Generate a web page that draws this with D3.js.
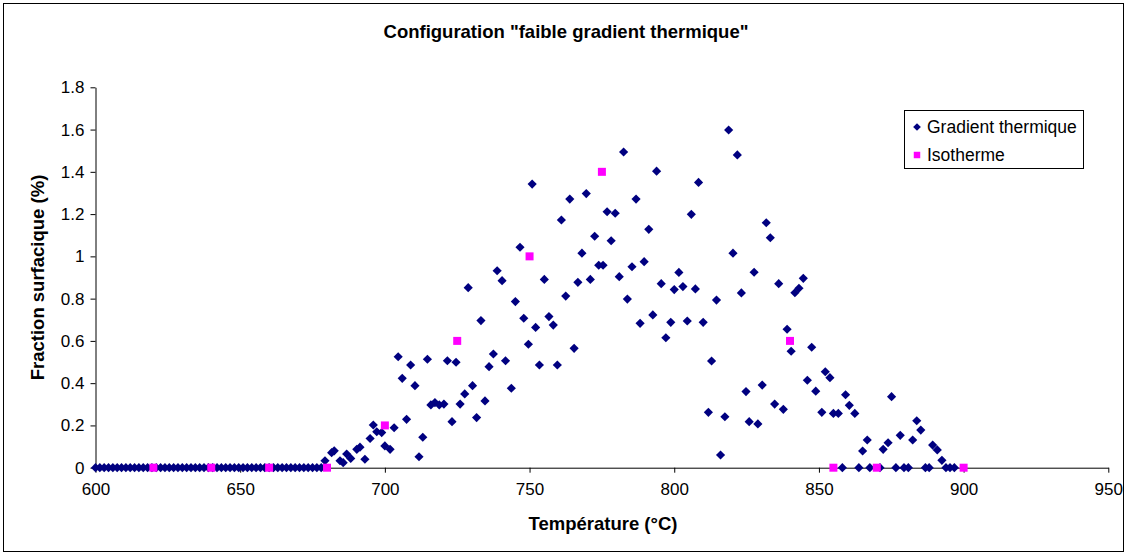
<!DOCTYPE html>
<html>
<head>
<meta charset="utf-8">
<script src="https://cdn.jsdelivr.net/npm/d3@7"></script>
<style>
  html, body { margin: 0; padding: 0; background: #fff; }
  svg { display: block; font-family: "Liberation Sans", Arial, sans-serif; }
</style>
</head>
<body>
<svg id="chart" width="1127" height="555"></svg>
<script>
// ---- Data ----
const chartTitle = 'Configuration "faible gradient thermique"';
const xTitle = "Température (°C)";
const yTitle = "Fraction surfacique (%)";
const seriesNames = ["Gradient thermique", "Isotherme"];

const xTickValues = [600, 650, 700, 750, 800, 850, 900, 950];
const yTickValues = [0, 0.2, 0.4, 0.6, 0.8, 1, 1.2, 1.4, 1.6, 1.8];
const yTickLabels = ["0", "0.2", "0.4", "0.6", "0.8", "1", "1.2", "1.4", "1.6", "1.8"];

// Gradient thermique: temperatures (°C)
const gradientT = [
  600, 601.5, 603, 604.5, 606, 607.5, 609, 610.5, 612, 613.5, 615, 616.5, 618, 619.5, 621, 622.5,
  624, 625.5, 627, 628.5, 630, 631.5, 633, 634.5, 636, 637.5, 639, 640.5, 642, 643.5, 645, 646.5,
  648, 649.5, 651, 652.5, 654, 655.5, 657, 658.5, 660, 661.5, 663, 664.5, 666, 667.5, 669, 670.5,
  672, 673.5, 675, 676.5, 678,
  679.3, 681.6, 682.5, 684.5, 685.6, 686.8, 688.2, 690.3, 691.4, 693.1, 694.9, 696.0, 697.2, 698.9,
  700.0, 701.8, 703.2, 704.6, 706.0, 707.5, 708.9, 710.4, 711.8, 713.1, 714.7, 715.9, 717.3, 718.8,
  720.4, 721.6, 723.2, 724.6, 726.0, 727.6, 728.8, 730.3, 731.7, 733.2, 734.6, 736.0, 737.5, 738.8,
  740.5, 741.7, 743.7, 745.1, 746.7, 748.0, 749.6, 750.9, 752.1, 753.4, 755.1, 756.7, 758.2, 759.6,
  761.0, 762.5, 763.9, 765.4, 766.7, 768.1, 769.6, 771.0, 772.5, 773.9, 775.4, 776.8, 778.2, 779.6,
  781.0, 782.5, 783.8, 785.4, 786.8, 788.2, 789.6, 791.2, 792.6, 793.9, 795.5, 797.1, 798.8, 800.0,
  801.6, 803.0, 804.5, 805.9, 807.3, 808.4, 810.0, 811.8, 812.9, 814.6, 816.0, 817.5, 818.8, 820.3,
  821.8, 823.2, 824.8, 825.9, 827.6, 828.9, 830.4, 831.8, 833.2, 834.7, 836.1, 837.7, 839.0, 840.4,
  841.7, 843.1, 844.6, 846.0, 847.5, 848.9, 851.0, 852.2, 853.8, 855.0, 856.7, 858.1, 859.2, 860.5,
  862.4, 863.8, 865.1, 866.7, 867.6, 871.1, 872.2, 873.9, 875.1, 876.6, 878.1, 879.4, 880.9, 882.4,
  883.8, 885.2, 886.8, 888.1, 889.3, 890.9, 892.5, 893.9, 895.3, 896.8
];
// Gradient thermique: surface fraction (%)
const gradientV = [
  0, 0, 0, 0, 0, 0, 0, 0, 0, 0, 0, 0, 0, 0, 0, 0,
  0, 0, 0, 0, 0, 0, 0, 0, 0, 0, 0, 0, 0, 0, 0, 0,
  0, 0, 0, 0, 0, 0, 0, 0, 0, 0, 0, 0, 0, 0, 0, 0,
  0, 0, 0, 0, 0,
  0.033, 0.071, 0.080, 0.033, 0.024, 0.065, 0.044, 0.087, 0.097, 0.040, 0.138, 0.202, 0.170, 0.166,
  0.103, 0.087, 0.189, 0.525, 0.423, 0.229, 0.486, 0.388, 0.052, 0.144, 0.513, 0.297, 0.308, 0.297,
  0.301, 0.506, 0.218, 0.499, 0.301, 0.349, 0.852, 0.388, 0.237, 0.696, 0.316, 0.478, 0.538, 0.932,
  0.885, 0.506, 0.376, 0.786, 1.043, 0.707, 0.584, 1.342, 0.664, 0.486, 0.891, 0.715, 0.675, 0.486,
  1.172, 0.812, 1.271, 0.565, 0.877, 1.015, 1.297, 0.891, 1.095, 0.958, 0.958, 1.211, 1.074, 1.204,
  0.904, 1.494, 0.798, 0.951, 1.271, 0.683, 0.975, 1.128, 0.723, 1.403, 0.871, 0.615, 0.688, 0.843,
  0.924, 0.857, 0.694, 1.199, 0.846, 1.350, 0.688, 0.262, 0.505, 0.793, 0.060, 0.241, 1.598, 1.015,
  1.480, 0.827, 0.360, 0.218, 0.925, 0.207, 0.391, 1.159, 1.088, 0.301, 0.871, 0.276, 0.655, 0.551,
  0.828, 0.849, 0.896, 0.414, 0.570, 0.362, 0.262, 0.454, 0.426, 0.257, 0.257, 0, 0.345, 0.295,
  0.257, 0, 0.079, 0.131, 0, 0, 0.087, 0.118, 0.336, 0, 0.153, 0, 0, 0.131,
  0.222, 0.178, 0, 0, 0.107, 0.084, 0.035, 0, 0, 0
];

// Isotherme
const isoT = [620, 640, 660, 680, 700, 725, 750, 775, 840, 855, 870, 900];
const isoV = [0, 0, 0, 0, 0.2, 0.6, 1.0, 1.4, 0.6, 0, 0, 0];

// ---- Drawing ----
const W = 1127, H = 555;
const svg = d3.select("#chart");
const plot = { left: 95.5, right: 1108.3, top: 87.3, bottom: 467.7 };

const x = d3.scaleLinear().domain([600, 950]).range([plot.left, plot.right]);
const y = d3.scaleLinear().domain([0, 1.8]).range([plot.bottom, plot.top]);

const navy = "#000080", magenta = "#FF00FF", axisCol = "#000";

// outer chart border
svg.append("rect").attr("x", 3.5).attr("y", 3.5).attr("width", W - 7).attr("height", H - 7)
  .attr("fill", "#fff").attr("stroke", "#000").attr("stroke-width", 1);

// title
svg.append("text").attr("x", 566).attr("y", 38).attr("text-anchor", "middle")
  .attr("font-size", 18.5).attr("font-weight", "bold").text(chartTitle);

// axes
const xAxis = d3.axisBottom(x).tickValues(xTickValues).tickSize(5).tickSizeOuter(0).tickPadding(10)
  .tickFormat(d3.format("d"));
const gx = svg.append("g").attr("transform", `translate(0,${plot.bottom})`).call(xAxis);
const yAxis = d3.axisLeft(y).tickValues(yTickValues).tickSize(5).tickSizeOuter(0).tickPadding(6)
  .tickFormat((d, i) => yTickLabels[i]);
const gy = svg.append("g").attr("transform", `translate(${plot.left},0)`).call(yAxis);
[gx, gy].forEach(g => {
  g.select(".domain").attr("stroke", axisCol);
  g.selectAll(".tick line").attr("stroke", axisCol);
  g.selectAll(".tick text").attr("font-size", 17).attr("fill", "#000")
    .attr("font-family", '"Liberation Sans", Arial, sans-serif');
});

// axis titles
svg.append("text").attr("x", 603).attr("y", 530).attr("text-anchor", "middle")
  .attr("font-size", 18.5).attr("font-weight", "bold").text(xTitle);
svg.append("text").attr("transform", `translate(44,${(plot.top + plot.bottom) / 2}) rotate(-90)`)
  .attr("text-anchor", "middle").attr("font-size", 18.5).attr("font-weight", "bold").text(yTitle);

// data
const gradient = gradientT.map((t, i) => ({ t, v: gradientV[i] }));
const iso = isoT.map((t, i) => ({ t, v: isoV[i] }));

const diamond = d3.symbol().type(d3.symbolSquare).size(42);
const square = d3.symbol().type(d3.symbolSquare).size(64);

svg.append("g").selectAll("path").data(gradient).join("path")
  .attr("d", diamond)
  .attr("transform", d => `translate(${x(d.t)},${y(d.v)}) rotate(45)`)
  .attr("fill", navy);

svg.append("g").selectAll("path").data(iso).join("path")
  .attr("d", square)
  .attr("transform", d => `translate(${x(d.t)},${y(d.v)})`)
  .attr("fill", magenta);

// legend
const lg = svg.append("g");
lg.append("rect").attr("x", 904.5).attr("y", 110.5).attr("width", 179).attr("height", 58)
  .attr("fill", "#fff").attr("stroke", "#000");
lg.append("path").attr("d", d3.symbol().type(d3.symbolSquare).size(30)())
  .attr("transform", "translate(917,127) rotate(45)").attr("fill", navy);
lg.append("path").attr("d", d3.symbol().type(d3.symbolSquare).size(42)())
  .attr("transform", "translate(917,155)").attr("fill", magenta);
lg.append("text").attr("x", 927).attr("y", 133).attr("font-size", 17.5).text(seriesNames[0]);
lg.append("text").attr("x", 927).attr("y", 161).attr("font-size", 17.5).text(seriesNames[1]);
</script>
</body>
</html>
